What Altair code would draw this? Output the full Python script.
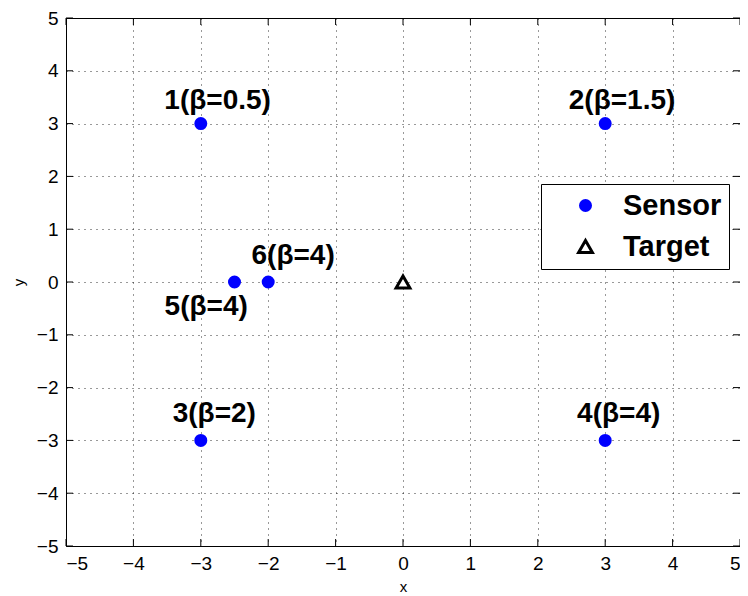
import altair as alt
import pandas as pd

# Data
sensor_x = [-3, 3, -3, 3, -2.5, -2]
sensor_y = [3, 3, -3, -3, 0, 0]
target_x = [0]
target_y = [0]
labels = ["1(β=0.5)", "2(β=1.5)", "3(β=2)", "4(β=4)", "5(β=4)", "6(β=4)"]
label_x = [-2.75, 3.25, -2.8, 3.2, -2.92, -1.63]
label_y = [3.43, 3.43, -2.5, -2.5, -0.47, 0.49]
tick_values = [-5, -4, -3, -2, -1, 0, 1, 2, 3, 4, 5]

W, H = 674, 528

pts = pd.DataFrame({
    "x": sensor_x + target_x,
    "y": sensor_y + target_y,
    "type": ["Sensor"] * len(sensor_x) + ["Target"] * len(target_x),
})
lab = pd.DataFrame({"x": label_x, "y": label_y, "label": labels})
ticks = pd.DataFrame({"x": tick_values, "y": tick_values})

xscale = alt.Scale(domain=[-5, 5], nice=False, zero=False)
yscale = alt.Scale(domain=[-5, 5], nice=False, zero=False)
xaxis = alt.Axis(values=tick_values, format="d", titlePadding=6)
yaxis = alt.Axis(values=tick_values, format="d", titlePadding=10)
dom = ["Sensor", "Target"]


def X():
    return alt.X("x:Q", scale=xscale, title="x", axis=xaxis)


def Y():
    return alt.Y("y:Q", scale=yscale, title="y", axis=yaxis)


points = alt.Chart(pts).mark_point(strokeWidth=3, opacity=1).encode(
    x=X(), y=Y(),
    shape=alt.Shape("type:N", scale=alt.Scale(domain=dom, range=["circle", "triangle-up"]), legend=alt.Legend(title=None)),
    fill=alt.Fill("type:N", scale=alt.Scale(domain=dom, range=["#0000ff", "#ffffff"]), legend=alt.Legend(title=None)),
    stroke=alt.Stroke("type:N", scale=alt.Scale(domain=dom, range=["#0000ff", "#000000"]), legend=alt.Legend(title=None)),
    size=alt.Size("type:N", scale=alt.Scale(domain=dom, range=[100, 190]), legend=alt.Legend(title=None)),
)

text = alt.Chart(lab).mark_text(
    font="Liberation Sans", fontSize=28, fontWeight="bold",
    align="center", baseline="middle", color="black"
).encode(x=X(), y=Y(), text="label:N")

tl = 7
xb = alt.Chart(ticks).mark_rule(color="black", strokeWidth=1).encode(
    x=X(), y=alt.value(H), y2=alt.value(H - tl))
xt = alt.Chart(ticks).mark_rule(color="black", strokeWidth=1).encode(
    x=X(), y=alt.value(0), y2=alt.value(tl))
yl = alt.Chart(ticks).mark_rule(color="black", strokeWidth=1).encode(
    y=Y(), x=alt.value(0), x2=alt.value(tl))
yr = alt.Chart(ticks).mark_rule(color="black", strokeWidth=1).encode(
    y=Y(), x=alt.value(W), x2=alt.value(W - tl))

chart = alt.layer(points, xb, xt, yl, yr, text).properties(
    width=W, height=H, autosize="none",
    padding={"left": 58, "top": 10, "right": 0, "bottom": 48},
).configure_view(
    stroke="black", strokeWidth=1
).configure_axis(
    labelFont="Liberation Sans", labelFontSize=19, labelColor="black",
    titleFont="Liberation Sans", titleFontSize=15, titleFontWeight="normal", titleColor="black",
    domain=False, ticks=False, labelPadding=8,
    grid=True, gridColor="#000000", gridDash=[1, 5], gridWidth=1, gridOpacity=0.8,
).configure_legend(
    orient="none", legendX=475, legendY=166,
    fillColor="white", strokeColor="black", padding=7,
    labelFont="Liberation Sans", labelFontSize=29, labelFontWeight="bold", labelColor="black",
    symbolStrokeWidth=3, symbolOffset=23, labelOffset=23, rowPadding=11,
)

chart.save("out.html", embed_options={"renderer": "svg", "actions": False})
